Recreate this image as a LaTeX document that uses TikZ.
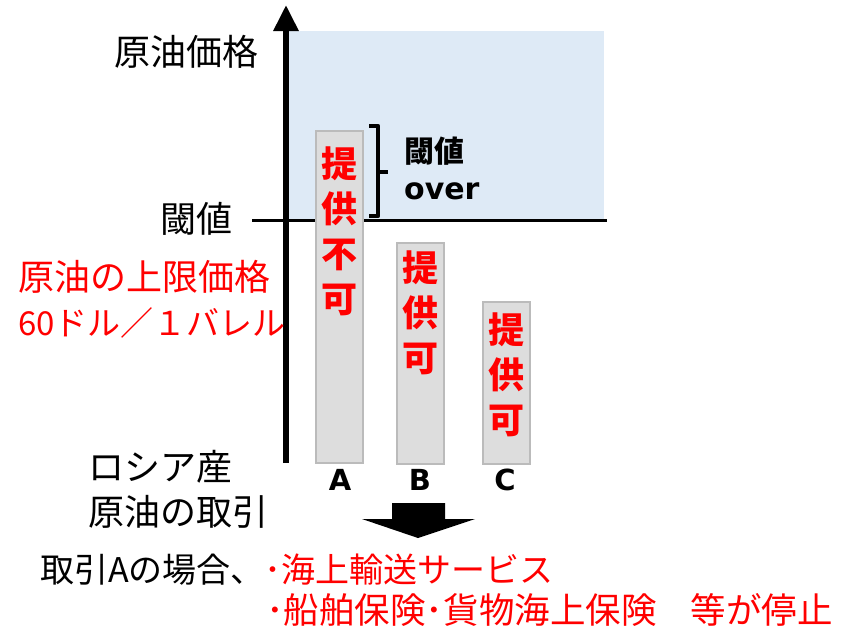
\documentclass[tikz,border=0pt]{standalone}
\usepackage{fontspec}
\setmainfont{Noto Sans CJK JP}
\newfontfamily\lat{DejaVu Sans}
\usetikzlibrary{arrows.meta}
\definecolor{bluebg}{HTML}{DEEAF6}
\definecolor{barfill}{HTML}{DDDDDD}
\definecolor{barline}{HTML}{BBBBBB}
\definecolor{myred}{HTML}{FF0000}
\tikzset{
  bar/.style={draw=barline, fill=barfill, line width=1.5pt, anchor=north west, minimum width=47pt, inner sep=0pt},
  bartext/.style={text=myred, align=center, font=\fontsize{36}{45}\selectfont\bfseries, inner sep=0pt},
  lbl/.style={font=\fontsize{36}{45}\selectfont, inner sep=0pt},
  bot/.style={font=\fontsize{34}{40}\selectfont, inner sep=0pt},
  abc/.style={font=\fontsize{29}{30}\selectfont\lat\bfseries, inner sep=0pt},
}
\begin{document}
\begin{tikzpicture}[x=1pt,y=-1pt]
\useasboundingbox (0,0) rectangle (843,630);
\fill[bluebg] (288,31) rectangle (604,220);
% threshold line
\coordinate (th0) at (252,220);
\coordinate (th1) at (607,220);
\draw[line width=3pt] (th0) -- (th1);
% axis
\coordinate (ax0) at (286,463);
\coordinate (ax1) at (286,5);
\draw[line width=6pt, -{Triangle[width=24pt,length=26pt]}] (ax0) -- (ax1);
% bars
\node[bar, minimum height=332pt] (barA) at (315,130) {};
\node[bar, minimum height=221pt] (barB) at (396,242) {};
\node[bar, minimum height=162pt] (barC) at (482,301) {};
\node[bartext] (tA) at (339,231) {提\\供\\不\\可};
\node[bartext] (tB) at (420,313) {提\\供\\可};
\node[bartext] (tC) at (506,375) {提\\供\\可};
% ABC labels
\node[abc] (lA) at (340,480) {A};
\node[abc] (lB) at (420,480) {B};
\node[abc] (lC) at (505,480) {C};
% bracket
\coordinate (br0) at (369,126);
\coordinate (br1) at (378,126);
\coordinate (brm) at (378,172);
\coordinate (brt) at (388,172);
\coordinate (br2) at (378,216);
\coordinate (br3) at (369,216);
\draw[line width=4.5pt, line join=round] (br0) -- (br1) -- (br2) -- (br3);
\draw[line width=4.5pt] (brm) -- (brt);
\node[anchor=west, align=left, inner sep=0pt, font=\fontsize{30}{37}\selectfont\bfseries] (over) at (404,168) {閾値\\{\lat over}};
% left labels
\node[lbl, anchor=east] (price) at (259,52) {原油価格};
\node[lbl, anchor=east] (thr) at (233,219) {閾値};
\node[lbl, anchor=west, text=myred, align=left] (cap) at (18,299) {原油の上限価格\\{\fontsize{33}{45}\selectfont 60ドル／１バレル}};
\node[lbl, anchor=west, align=left] (rus) at (88,489) {ロシア産\\原油の取引};
% big arrow
\fill (392,503) -- (445,503) -- (445,519) -- (475,519) -- (418,538) -- (362,519) -- (392,519) -- cycle;
% bottom text
\node[bot, anchor=west] (b1) at (40,570) {取引Aの場合、{\color{myred}･海上輸送サービス}};
\node[bot, anchor=west, text=myred, font=\fontsize{35.5}{40}\selectfont] (b2) at (266,610) {･船舶保険･貨物海上保険\hspace{34pt}等が停止};
\end{tikzpicture}
\end{document}
